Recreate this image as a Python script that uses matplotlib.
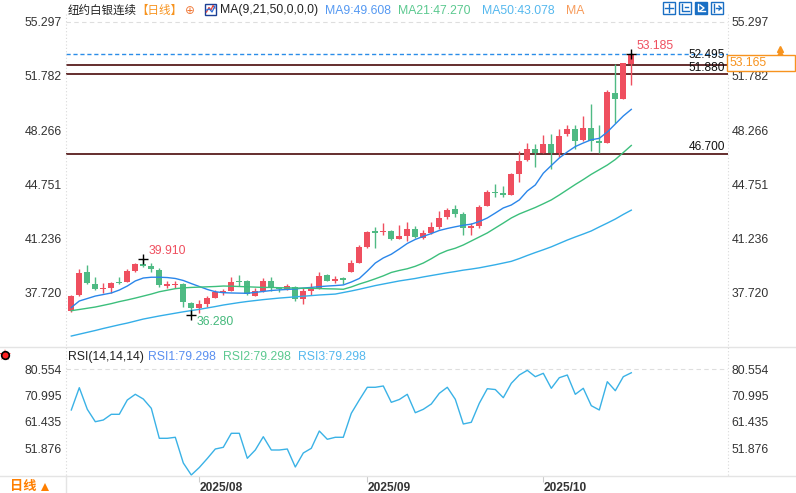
import numpy as np
import matplotlib
matplotlib.use('Agg')
import matplotlib.pyplot as plt
from matplotlib.patches import Rectangle
from matplotlib.lines import Line2D

plt.rcParams['font.family'] = ['Liberation Sans', 'Noto Sans CJK SC', 'DejaVu Sans']

######################################################################
# data (daily candles, jul .. oct 2025)

opens = [36.56, 37.58, 39.09, 38.30, 37.95, 38.05, 38.42, 38.40, 39.13, 39.57,
         39.44, 39.20, 38.18, 38.25, 38.27, 37.04, 36.72, 37.00, 37.40, 37.69,
         37.84, 38.47, 38.47, 37.53, 37.84, 38.49, 38.01, 37.95, 38.12, 37.30,
         37.84, 38.05, 38.88, 38.51, 38.66, 39.09, 39.67, 40.71, 41.73, 41.66,
         41.73, 41.21, 41.40, 41.86, 41.30, 41.58, 42.01, 42.65, 43.15, 42.83,
         41.94, 42.07, 43.37, 44.27, 44.17, 44.06, 45.42, 46.33, 47.04, 46.80,
         47.36, 46.80, 48.01, 48.34, 47.62, 48.40, 47.56, 47.45, 50.69, 50.30,
         52.55]
highs = [37.58, 39.25, 39.52, 38.73, 38.34, 38.44, 38.73, 39.26, 39.67, 39.91,
         39.63, 39.31, 38.49, 38.49, 38.34, 37.15, 37.26, 37.51, 37.90, 37.95,
         38.73, 38.88, 38.55, 38.01, 38.66, 38.73, 38.12, 38.29, 38.16, 38.01,
         38.34, 39.05, 38.94, 38.81, 38.77, 39.85, 40.82, 41.73, 42.01, 42.26,
         41.79, 42.12, 42.33, 42.05, 41.79, 42.29, 43.02, 43.24, 43.41, 42.98,
         42.22, 43.41, 44.38, 44.77, 44.64, 45.50, 46.91, 47.41, 47.36, 47.94,
         48.01, 48.34, 48.60, 48.60, 49.18, 49.94, 48.60, 50.86, 52.53, 52.63,
         53.185]
lows = [36.48, 37.51, 38.32, 37.90, 37.69, 37.69, 38.32, 38.39, 39.09, 39.41,
        39.05, 38.12, 38.05, 38.01, 36.82, 36.28, 36.39, 36.82, 37.37, 37.58,
        37.84, 38.18, 37.58, 37.53, 37.79, 37.84, 37.75, 37.90, 37.21, 36.98,
        37.58, 37.95, 38.51, 38.34, 38.30, 39.09, 39.65, 40.60, 40.60, 41.47,
        41.14, 41.19, 41.10, 41.25, 41.21, 41.53, 41.86, 42.48, 42.61, 41.47,
        41.47, 41.94, 43.35, 43.95, 43.91, 44.03, 44.92, 46.28, 45.89, 46.76,
        45.72, 46.54, 47.88, 47.02, 47.56, 46.91, 46.76, 47.45, 48.74, 50.26,
        51.19]
closes = [37.51, 38.99, 38.34, 37.95, 38.05, 38.34, 38.34, 39.13, 39.59, 39.48,
          39.25, 38.23, 38.29, 38.28, 37.11, 36.72, 36.98, 37.37, 37.79, 37.84,
          38.40, 38.40, 37.62, 37.84, 38.49, 38.01, 37.95, 38.16, 37.30, 37.84,
          38.01, 38.81, 38.51, 38.60, 38.57, 39.63, 40.67, 41.64, 41.62, 41.73,
          41.21, 41.40, 41.86, 41.32, 41.58, 41.99, 42.55, 43.09, 42.83, 41.94,
          42.07, 43.30, 44.27, 44.21, 44.08, 45.42, 46.26, 47.04, 46.80, 47.36,
          46.80, 47.88, 48.34, 47.58, 48.40, 47.56, 47.45, 50.75, 50.30, 52.59,
          53.165]

ma9 = [36.77, 37.19, 37.35, 37.51, 37.61, 37.71, 37.90, 38.16, 38.49, 38.68,
       38.73, 38.73, 38.71, 38.65, 38.52, 38.32, 38.13, 37.94, 37.79, 37.73,
       37.71, 37.70, 37.69, 37.75, 37.81, 37.87, 37.91, 37.94, 37.97, 38.03,
       38.07, 38.12, 38.16, 38.19, 38.23, 38.42, 38.65, 39.13, 39.65, 39.98,
       40.22, 40.56, 40.92, 41.18, 41.38, 41.56, 41.76, 41.89, 42.00, 42.10,
       42.17, 42.34, 42.57, 42.89, 43.22, 43.41, 43.74, 44.32, 44.71, 45.47,
       45.97, 46.46, 46.85, 47.20, 47.43, 47.64, 47.73, 48.14, 48.66, 49.18,
       49.608]
ma21 = [36.56, 36.64, 36.72, 36.80, 36.91, 37.02, 37.15, 37.26, 37.38, 37.51,
        37.64, 37.79, 37.89, 37.99, 38.04, 38.07, 38.09, 38.11, 38.13, 38.16,
        38.15, 38.13, 38.11, 38.09, 38.07, 38.07, 38.05, 38.04, 38.03, 38.02,
        38.01, 38.00, 37.98, 37.97, 37.95, 38.10, 38.29, 38.45, 38.63, 38.82,
        39.04, 39.17, 39.28, 39.44, 39.65, 39.93, 40.24, 40.46, 40.61, 40.82,
        41.08, 41.34, 41.60, 41.92, 42.24, 42.57, 42.83, 43.04, 43.25, 43.49,
        43.74, 44.06, 44.40, 44.74, 45.06, 45.40, 45.70, 46.00, 46.36, 46.81,
        47.27]
ma50 = [34.92, 35.04, 35.16, 35.28, 35.41, 35.53, 35.65, 35.76, 35.89, 36.02,
        36.12, 36.22, 36.31, 36.40, 36.49, 36.57, 36.65, 36.74, 36.83, 36.93,
        37.01, 37.09, 37.16, 37.22, 37.28, 37.33, 37.38, 37.42, 37.46, 37.50,
        37.54, 37.58, 37.61, 37.64, 37.74, 37.84, 37.95, 38.07, 38.19, 38.29,
        38.39, 38.49, 38.57, 38.65, 38.75, 38.84, 38.93, 39.02, 39.10, 39.19,
        39.26, 39.34, 39.44, 39.54, 39.65, 39.76, 39.94, 40.14, 40.33, 40.51,
        40.70, 40.92, 41.14, 41.34, 41.53, 41.73, 41.99, 42.24, 42.50, 42.80,
        43.078]

rsi = [65.77, 73.87, 66.02, 61.51, 62.13, 64.20, 64.20, 69.40, 71.47, 69.76,
       66.38, 55.48, 55.48, 55.85, 46.51, 42.14, 44.87, 48.14, 51.59, 52.21,
       57.30, 57.30, 48.21, 51.23, 56.06, 51.23, 51.23, 51.59, 45.05, 50.14,
       51.85, 58.13, 55.12, 55.85, 55.85, 64.57, 69.40, 74.02, 74.02, 74.49,
       68.56, 69.58, 71.47, 64.78, 66.02, 67.95, 71.83, 74.02, 69.65, 60.68,
       61.30, 68.20, 73.50, 73.20, 70.24, 75.47, 78.48, 80.19, 77.87, 79.10,
       73.65, 77.50, 78.48, 71.47, 73.65, 67.33, 65.77, 76.05, 72.78, 77.87,
       79.298]

price_ticks = [55.297, 51.782, 48.266, 44.751, 41.236, 37.720]
rsi_ticks = [80.554, 70.995, 61.435, 51.876]
level_lines = [52.495, 51.880, 46.700]
level_lift = [7.1, 4.7, 5.1]     # label offset above each line, points
last_price = 53.165
date_pos = [16, 37, 59]
date_labels = ['2025/08', '2025/09', '2025/10']
marks = [(9, 'high'), (15, 'low'), (70, 'high')]   # shown extremes

######################################################################
# colours / helpers

RED = '#ef4f5f'
GREEN = '#4fba84'
C_MA9 = '#2a86ea'
C_MA21 = '#3cbf7c'
C_MA50 = '#34aee8'
C_RSI = '#3ab2e6'
DARK = '#4a0b0b'
ORANGE = '#f7931e'
TXT = '#333333'

W, H = 796, 493
def fx(px):
    return px / W
def fy(py):
    return 1 - py / H

opens = np.array(opens); closes = np.array(closes)
highs = np.array(highs); lows = np.array(lows)
xs = np.arange(len(closes))

fig = plt.figure(figsize=(W / 100, H / 100), dpi=100)
ax = fig.add_axes([fx(66), fy(346.7), fx(727.7) - fx(66), fy(14) - fy(346.7)])
ax2 = fig.add_axes([fx(66), fy(476), fx(727.7) - fx(66), fy(347) - fy(476)])

xlim = (-0.6625, 82.05)

######################################################################
# main panel

up = closes >= opens
cols = np.where(up, RED, GREEN)
ax.vlines(xs, lows, highs, colors=cols, lw=1, zorder=3)
ax.bar(xs, np.maximum(np.abs(closes - opens), 0.03), bottom=np.minimum(opens, closes),
       width=0.78, color=cols, linewidth=0, zorder=4)

ax.plot(xs, ma9, color=C_MA9, lw=1, zorder=5)
ax.plot(xs, ma21, color=C_MA21, lw=1, zorder=5)
ax.plot(xs, ma50, color=C_MA50, lw=1, zorder=5)

ax.axhline(price_ticks[0], color='#dedede', lw=0.8, ls=(0, (4, 3)), zorder=1)
for lv, lift in zip(level_lines, level_lift):
    ax.axhline(lv, color=DARK, lw=1.2, zorder=2)
    ax.annotate('%.3f' % lv, xy=(1, lv), xycoords=ax.get_yaxis_transform(),
                xytext=(-2, lift), textcoords='offset points', ha='right', va='center',
                fontsize=8.6, color='#111111')
ax.axhline(last_price, color='#2b8de8', lw=1, ls=(0, (3, 2)), zorder=2)

for i, kind in marks:
    v = highs[i] if kind == 'high' else lows[i]
    ax.plot(i, v, marker='+', color='k', ms=7, mew=1, zorder=7)
    dy = 5.8 if kind == 'high' else -5.0
    ax.annotate('%.3f' % v, xy=(i, v), xytext=(4, dy), textcoords='offset points',
                ha='left', va='center', fontsize=8.8,
                color=RED if kind == 'high' else '#45b97c', zorder=7)

ax.set_xlim(*xlim)
ax.set_ylim(34.229, 55.788)
ax.set_xticks([])
ax.set_yticks(price_ticks)
ax.set_yticklabels(['%.3f' % t for t in price_ticks])
ax.tick_params(axis='y', length=0, labelleft=True, labelright=True, pad=3,
               labelsize=8.8, labelcolor=TXT)
for s in ax.spines.values():
    s.set_visible(False)

######################################################################
# rsi panel

ax2.plot(xs, rsi, color=C_RSI, lw=1)
ax2.axhline(rsi_ticks[0], color='#dedede', lw=0.8, ls=(0, (4, 3)), zorder=1)
ax2.set_xlim(*xlim)
ax2.set_ylim(41.78, 88.66)
ax2.set_yticks(rsi_ticks)
ax2.set_yticklabels(['%.3f' % t for t in rsi_ticks])
ax2.tick_params(axis='y', length=0, labelleft=True, labelright=True, pad=3,
                labelsize=8.8, labelcolor=TXT)
ax2.set_xticks(date_pos)
ax2.set_xticklabels(date_labels, fontweight='bold')
ax2.tick_params(axis='x', length=4, color='#cccccc', pad=0.5, labelsize=8.6, labelcolor=TXT)
for lbl in ax2.get_xticklabels():
    lbl.set_ha('left')
for s in ax2.spines.values():
    s.set_visible(False)

######################################################################
# frame lines, legends and decorations

def fline(xp, yp, **kw):
    fig.add_artist(Line2D([fx(v) for v in xp], [fy(v) for v in yp],
                          transform=fig.transFigure, **kw))

fline([0, W], [346.7, 346.7], color='#e4e4e4', lw=1)
fline([0, W], [476, 476], color='#e4e4e4', lw=1)
fline([66, 66], [14, 476], color='#d8d8d8', lw=0.8, ls=(0, (1, 2)))
fline([727.7, 727.7], [14, 476], color='#d8d8d8', lw=0.8, ls=(0, (1, 2)))
fline([66, 66], [476, 493], color='#e4e4e4', lw=1)

def ftext(xp, yp, s, color=TXT, size=8.8, **kw):
    fig.text(fx(xp), fy(yp), s, color=color, fontsize=size, va='center', ha='left', **kw)

ftext(68, 10.5, '纽约白银连续', color='#222222', size=8.3)
ftext(136, 10.5, '【日线】', color=ORANGE, size=8.3)
ftext(185, 11, '⊕', color='#f07a3a', size=8.5, family=['DejaVu Sans'])
fig.add_artist(Rectangle((fx(205), fy(14.5)), fx(11), 11 / H, transform=fig.transFigure,
                         fc='white', ec='#1c3f94', lw=1))
fline([206.5, 209, 211, 213, 215], [12, 7.5, 10, 5.5, 8], color='#e0413b', lw=0.9)
fline([206.5, 209.5, 212, 215], [10, 9, 12, 6], color='#2f6fd8', lw=0.9)
ftext(220, 10.5, 'MA(9,21,50,0,0,0)', color='#222222')
ftext(325, 10.5, 'MA9:49.608', color='#5599f2')
ftext(398, 10.5, 'MA21:47.270', color='#5cc990')
ftext(482, 10.5, 'MA50:43.078', color='#55b8ee')
ftext(566, 10.5, 'MA', color='#f79b5a')

# toolbar icons top right
for k, x0 in enumerate([663, 679, 695, 711]):
    fc = '#1a6fc4' if k == 2 else 'white'
    fig.add_artist(Rectangle((fx(x0), fy(14)), fx(12), 12 / H, transform=fig.transFigure,
                             fc=fc, ec='#1a6fc4', lw=1))
fline([669, 669], [4, 12], color='#1a6fc4', lw=1)
fline([665, 673], [8, 8], color='#1a6fc4', lw=1)
fline([682, 682, 689], [4, 11, 11], color='#1a6fc4', lw=1)
fline([685, 688], [7, 7], color='#1a6fc4', lw=1)
fline([698, 698, 705], [4, 11, 11], color='white', lw=1)
fline([700, 704, 700], [5, 8, 11], color='white', lw=1)
fline([714, 714], [4, 12], color='#1a6fc4', lw=1)
fline([716, 721], [8, 8], color='#1a6fc4', lw=1)
fline([719, 721, 719], [6, 8, 10], color='#1a6fc4', lw=1)

# last price box on the right
fig.add_artist(Rectangle((fx(727), fy(70.7)), fx(795) - fx(727), 15.7 / H,
                         transform=fig.transFigure, fc='white', ec=ORANGE, lw=1, zorder=5))
fig.text(fx(730), fy(62.8), '%.3f' % last_price, color=ORANGE, fontsize=8.8,
         va='center', ha='left', zorder=6)
fig.add_artist(Line2D([fx(780)], [fy(49)], marker='^', color=ORANGE, ms=4,
                      transform=fig.transFigure))
fig.add_artist(Line2D([fx(780)], [fy(53)], marker='^', color=ORANGE, ms=4,
                      transform=fig.transFigure))

# rsi legend
ftext(68, 357, 'RSI(14,14,14)', color='#222222')
ftext(148, 357, 'RSI1:79.298', color='#5a8ff0')
ftext(223, 357, 'RSI2:79.298', color='#5cc990')
ftext(298, 357, 'RSI3:79.298', color='#55b8ee')

# small indicator icon at left
fig.add_artist(Line2D([fx(5)], [fy(355)], marker='*', color='#ff3030', ms=9, mew=0,
                      transform=fig.transFigure))
fig.add_artist(Line2D([fx(5)], [fy(355)], marker='o', mfc='#ff2020', mec='black', ms=5.5,
                      mew=1.2, transform=fig.transFigure))

# bottom left label
ftext(10, 487, '日线', color='#ff7f00', size=9.5, fontweight='bold')
fig.add_artist(Line2D([fx(44.5)], [fy(487)], marker='^', color='#ff7f00', ms=6, mew=0,
                      transform=fig.transFigure))

fig.savefig('out.png', dpi=100)
